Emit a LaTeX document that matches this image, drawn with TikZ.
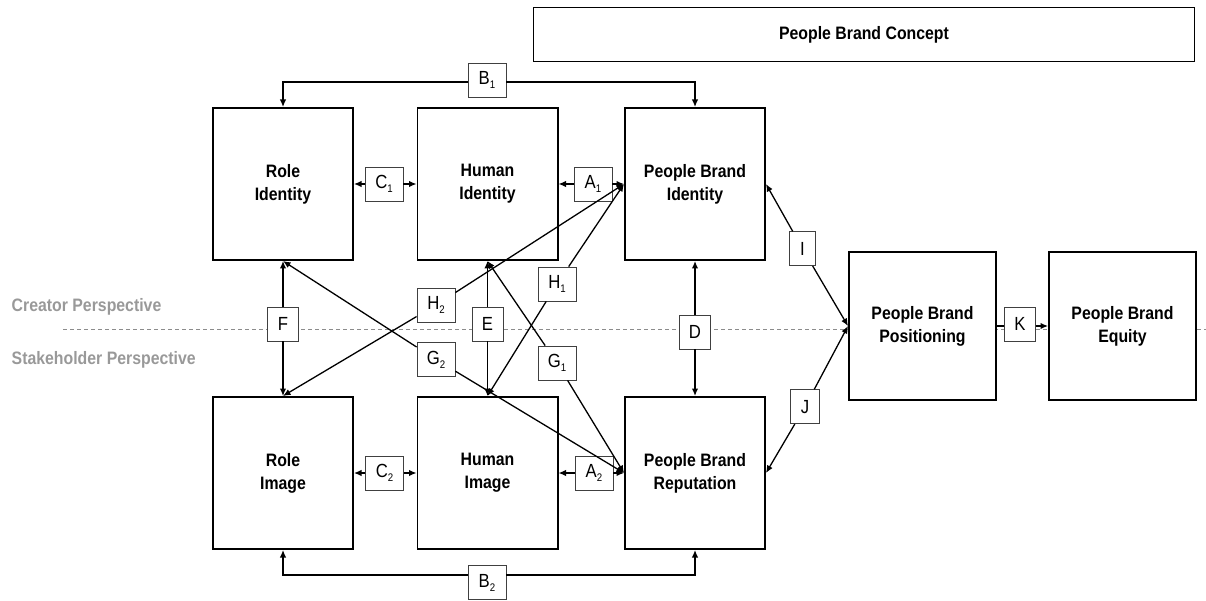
\documentclass[tikz,border=0pt]{standalone}
\usepackage{fontspec}
\setmainfont{Liberation Sans}[FakeStretch=0.88]
\usetikzlibrary{arrows.meta}
% small lowered index for the relation tags
\newcommand\lsub[1]{\raisebox{-4pt}{\fontsize{11}{11}\selectfont #1}}
\begin{document}
\begin{tikzpicture}[x=1pt,y=-1pt,
  blk/.style={draw, line width=1.8pt, fill=white, minimum width=140.2pt,
    minimum height=152.2pt, align=center, inner sep=0pt,
    font=\bfseries\fontsize{18}{23}\selectfont},
  wideblk/.style={blk, minimum width=147.2pt, minimum height=148.2pt},
  tag/.style={draw=black!75, line width=0.8pt, fill=white, minimum height=34pt,
    minimum width=38pt, inner sep=0pt, font=\fontsize{19}{20}\selectfont},
  narrowtag/.style={tag, minimum width=31pt},
  tip/.style={line width=1.3pt, -{Latex[length=7.5pt,width=6.5pt]}},
  plain/.style={line width=1.3pt},
  persp/.style={text=black!40, font=\bfseries\fontsize{18}{19}\selectfont,
    inner sep=0pt, anchor=base west}
]
\useasboundingbox (0,0) rectangle (1206,601);

% divide between the two perspectives
\coordinate (dl) at (63,329);
\coordinate (dr) at (1206,329);
\draw[black!45, line width=1pt, dash pattern=on 4pt off 3pt] (dl) -- (dr);
\node[persp] (cp) at (11.5,311.5) {Creator Perspective};
\node[persp] (sp) at (11.5,364) {Stakeholder Perspective};

% heading
\node[draw, line width=1.2pt, fill=white, minimum width=661pt, minimum height=54pt,
  font=\bfseries\fontsize{18}{19}\selectfont] (pbc) at (864,34.8) {People Brand Concept};

% main blocks
\node[blk] (RI)  at (283,184)   {Role\\Identity};
\node[blk] (HI)  at (487.5,184) {Human\\Identity};
\node[blk] (PBI) at (695,184)   {People Brand\\Identity};
\node[blk] (RIm) at (283,473)   {Role\\Image};
\node[blk] (HIm) at (487.5,473) {Human\\Image};
\node[blk] (Rep) at (695,473)   {People Brand\\Reputation};
\node[wideblk] (Pos) at (922.5,326) {People Brand\\Positioning};
\node[wideblk] (Eq)  at (1122.5,326) {People Brand\\Equity};

% relation tags
\node[tag] (B1) at (487,80)    {B\lsub{1}};
\node[tag] (B2) at (487,582.5) {B\lsub{2}};
\node[tag] (C1) at (384,184)   {C\lsub{1}};
\node[tag] (A1) at (593,184)   {A\lsub{1}};
\node[tag] (C2) at (384.5,473) {C\lsub{2}};
\node[tag] (A2) at (594,473)   {A\lsub{2}};
\node[tag] (H1) at (557,284)   {H\lsub{1}};
\node[tag] (H2) at (436,305)   {H\lsub{2}};
\node[tag] (G1) at (557,363)   {G\lsub{1}};
\node[tag] (G2) at (436,359.5) {G\lsub{2}};
\node[narrowtag] (F) at (283,324)   {F};
\node[narrowtag] (E) at (487.5,324) {E};
\node[narrowtag] (D) at (695,332)   {D};
\node[tag, minimum width=26pt] (I) at (802.5,248.7) {I};
\node[tag, minimum width=29pt] (J) at (805,406.7)   {J};
\node[narrowtag] (K) at (1020,324) {K};

% connectors
\draw[tip] ([yshift=-2pt]B1.west) -| (RI.north);
\draw[tip] ([yshift=-2pt]B1.east) -| (PBI.north);
\draw[tip] ([yshift=7.5pt]B2.west) -| (RIm.south);
\draw[tip] ([yshift=7.5pt]B2.east) -| (Rep.south);

\draw[tip] (C1) -- (RI);
\draw[tip] (C1) -- (HI);
\draw[tip] (A1) -- (HI);
\draw[tip] (A1) -- (PBI);
\draw[tip] (C2) -- (RIm);
\draw[tip] (C2) -- (HIm);
\draw[tip] (A2) -- (HIm);
\draw[tip] (A2) -- (Rep);

\draw[tip] (F) -- (RI);
\draw[tip] (F) -- (RIm);
\draw[tip] (E) -- (HI);
\draw[tip] (E) -- (HIm);
\draw[tip] (D) -- (PBI);
\draw[tip] (D) -- (Rep);

\draw[tip] (G2) -- (RI.south);
\draw[tip] (G2) -- (Rep.west);
\draw[tip] (G1) -- (HI.south);
\draw[tip] (G1) -- (Rep.west);
\draw[tip] (H1) -- (HIm.north);
\draw[tip] (H1) -- (PBI.west);
\draw[tip] (H2) -- (RIm.north);
\draw[tip] (H2) -- (PBI.west);

\draw[tip] (I) -- (PBI.east);
\draw[tip] (I) -- (Pos.west);
\draw[tip] (J) -- (Rep.east);
\draw[tip] (J) -- (Pos.west);

\draw[plain] ([yshift=-2pt]K.west) -- ([yshift=-2pt]K.west -| Pos.east);
\draw[tip] ([yshift=-2pt]K.east) -- ([yshift=-2pt]K.east -| Eq.west);
\end{tikzpicture}
\end{document}
